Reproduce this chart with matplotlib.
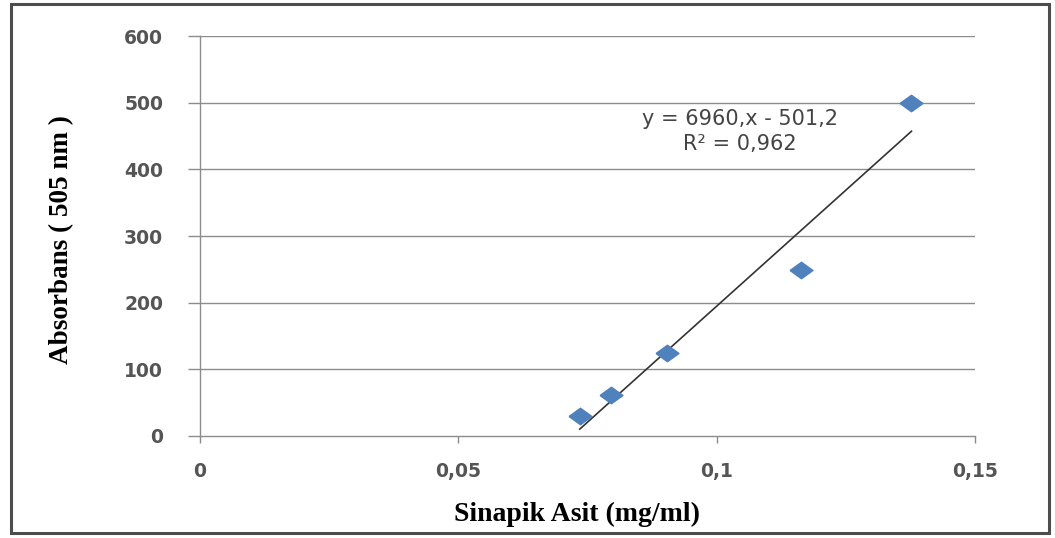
import matplotlib.pyplot as plt
import numpy as np
from matplotlib.patches import Rectangle

# Data
konsantrasyon = [0.0735, 0.0795, 0.0903, 0.1163, 0.1377]   # mg/ml
absorbans = [30, 62, 125, 249, 500]
egim, kesim = 6960, -501.2

x_ticks = [0, 0.05, 0.1, 0.15]
x_tick_labels = ['0', '0,05', '0,1', '0,15']
y_ticks = [0, 100, 200, 300, 400, 500, 600]

fig = plt.figure(figsize=(10.55, 5.38), dpi=100)
ax = fig.add_axes([0.1896, 0.1896, 0.9242 - 0.1896, 0.933 - 0.1896])

# outer frame of the picture
fig.patches.append(Rectangle((0.0105, 0.009), 0.984, 0.983, transform=fig.transFigure,
                             fill=False, edgecolor='#4d4d4d', linewidth=2.2))

grid_col = '#8c8c8c'
for yt in y_ticks[1:]:
    ax.axhline(yt, color=grid_col, linewidth=1.0, zorder=1)

# trend line over the data range
xs = np.array([min(konsantrasyon), max(konsantrasyon)])
ax.plot(xs, egim * xs + kesim, color='#333333', linewidth=1.2, zorder=2)

# stretched diamond, like the reference
diamond = [(-1, 0), (0, 0.72), (1, 0), (0, -0.72), (-1, 0)]
ax.plot(konsantrasyon, absorbans, linestyle='none', marker=diamond, markersize=16.5,
        color='#4f81bd', markeredgecolor='#4f81bd', zorder=3)

ax.set_xlim(0, 0.15)
ax.set_ylim(0, 600)
ax.set_xticks(x_ticks)
ax.set_xticklabels(x_tick_labels)
ax.set_yticks(y_ticks)

for s in ['top', 'right']:
    ax.spines[s].set_visible(False)
for s in ['left', 'bottom']:
    ax.spines[s].set_color(grid_col)
    ax.spines[s].set_linewidth(1.0)

ax.tick_params(axis='both', direction='out', width=1.0, color=grid_col,
               labelsize=13.5, labelcolor='#555555')
ax.tick_params(axis='x', length=5, pad=14)
ax.tick_params(axis='y', length=8.5, pad=18)
for lbl in ax.get_xticklabels() + ax.get_yticklabels():
    lbl.set_fontweight('bold')

ax.set_xlabel('Sinapik Asit (mg/ml)', fontfamily='Liberation Serif', fontweight='bold',
              fontsize=20)
ax.set_ylabel('Absorbans ( 505 nm )', fontfamily='Liberation Serif', fontweight='bold',
              fontsize=19.5)
ax.xaxis.set_label_coords(0.486, -0.165)
ax.yaxis.set_label_coords(-0.163, 0.49)

ax.text(0.1045, 457, 'y = 6960,x - 501,2\nR² = 0,962', ha='center', va='center',
        fontsize=15, color='#444444', linespacing=1.3)

fig.savefig('out.png', dpi=100)
